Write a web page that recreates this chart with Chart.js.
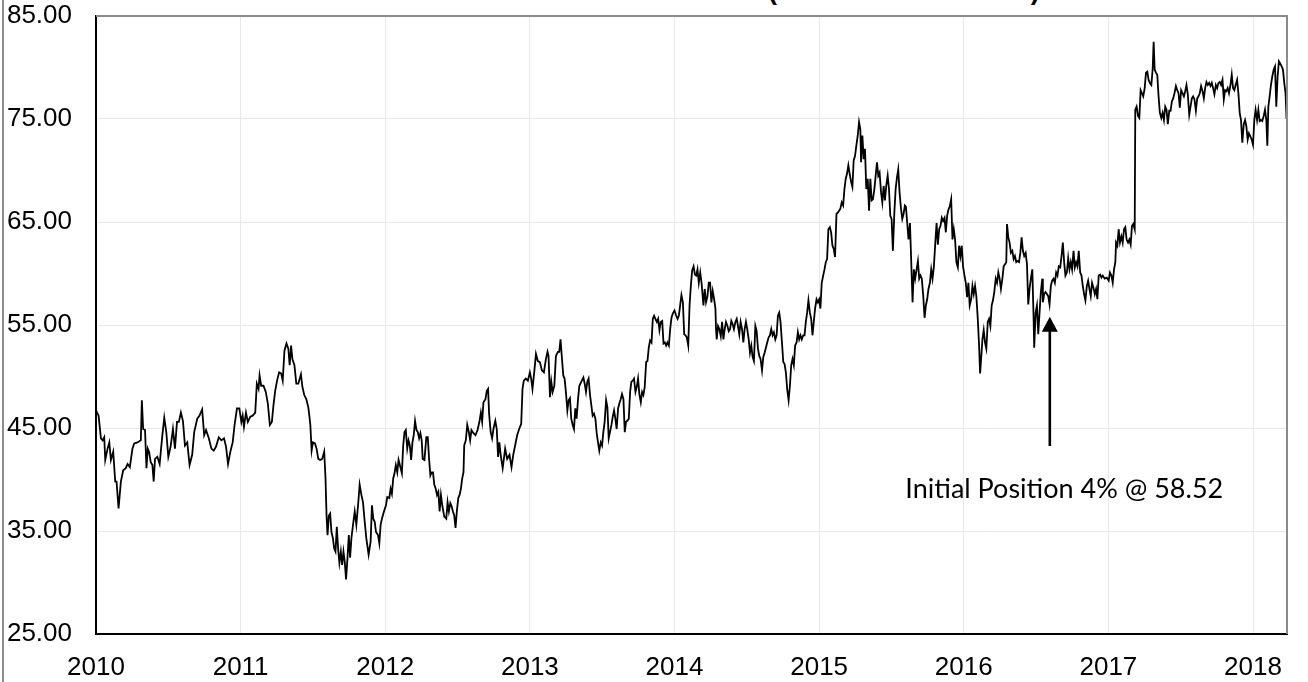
<!DOCTYPE html>
<html>
<head>
<meta charset="utf-8">
<script src="https://cdn.jsdelivr.net/npm/chart.js@4.4.0/dist/chart.umd.min.js"></script>
<style>
  html, body { margin: 0; padding: 0; background: #fff; }
  body { width: 1308px; height: 682px; position: relative; overflow: hidden; }
  canvas { position: absolute; left: 0; top: 0; }
  #frame { position: absolute; left: 2px; top: 0; width: 2px; height: 682px; background: #8c8c8c; }
  #title { position: absolute; left: 612px; top: -23px; font: bold 27px "Liberation Sans", Arial, sans-serif; line-height: 27px; white-space: nowrap; color: #000; }
</style>
</head>
<body>
<div id="title">Share Price (Jan 2010 - Mar 2018)</div>
<canvas id="chart" width="1308" height="682"></canvas>
<div id="frame"></div>
<script>
// weekly-ish closes, date as decimal year
const dates = [
  2010.000, 2010.018, 2010.034, 2010.046, 2010.057, 2010.064, 2010.080, 2010.092, 2010.103, 2010.119,
  2010.133, 2010.142, 2010.156, 2010.172, 2010.188, 2010.206, 2010.218, 2010.234, 2010.252, 2010.264,
  2010.287, 2010.310, 2010.317, 2010.326, 2010.339, 2010.349, 2010.358, 2010.367, 2010.378, 2010.390,
  2010.399, 2010.408, 2010.424, 2010.440, 2010.450, 2010.459, 2010.472, 2010.486, 2010.500, 2010.516,
  2010.532, 2010.546, 2010.560, 2010.573, 2010.587, 2010.601, 2010.615, 2010.631, 2010.647, 2010.665,
  2010.679, 2010.700, 2010.716, 2010.734, 2010.748, 2010.761, 2010.780, 2010.798, 2010.814, 2010.830,
  2010.849, 2010.867, 2010.885, 2010.899, 2010.913, 2010.929, 2010.945, 2010.959, 2010.975, 2010.991,
  2011.005, 2011.014, 2011.023, 2011.037, 2011.050, 2011.067, 2011.083, 2011.101, 2011.112, 2011.124,
  2011.131, 2011.142, 2011.158, 2011.174, 2011.188, 2011.202, 2011.216, 2011.227, 2011.239, 2011.252,
  2011.266, 2011.280, 2011.291, 2011.303, 2011.317, 2011.330, 2011.339, 2011.349, 2011.358, 2011.372,
  2011.385, 2011.399,
  2011.417, 2011.427, 2011.440, 2011.454, 2011.468, 2011.475, 2011.482, 2011.491, 2011.500, 2011.514,
  2011.525, 2011.537, 2011.550, 2011.564, 2011.578, 2011.587, 2011.594, 2011.601, 2011.610, 2011.619,
  2011.628, 2011.638, 2011.647, 2011.656, 2011.665, 2011.674, 2011.683, 2011.693, 2011.702, 2011.711,
  2011.720, 2011.729, 2011.739, 2011.748, 2011.757, 2011.766, 2011.777, 2011.789, 2011.800, 2011.812,
  2011.823, 2011.835, 2011.846, 2011.858, 2011.869, 2011.885, 2011.899, 2011.908, 2011.917, 2011.927,
  2011.936, 2011.950, 2011.959, 2011.968, 2011.977, 2011.991, 2012.005, 2012.014, 2012.028, 2012.037,
  2012.046, 2012.055, 2012.064, 2012.073, 2012.083, 2012.092, 2012.101, 2012.115, 2012.124, 2012.133,
  2012.142, 2012.152, 2012.161, 2012.170, 2012.179, 2012.188, 2012.197, 2012.206, 2012.216, 2012.225,
  2012.234, 2012.243, 2012.252, 2012.259, 2012.271, 2012.284, 2012.294, 2012.303, 2012.312, 2012.321,
  2012.330, 2012.339, 2012.349, 2012.358, 2012.367, 2012.376, 2012.385, 2012.394, 2012.408, 2012.422,
  2012.431, 2012.440, 2012.450, 2012.459, 2012.468, 2012.477, 2012.486, 2012.495, 2012.505, 2012.514,
  2012.523, 2012.532, 2012.541, 2012.546, 2012.557, 2012.567, 2012.578, 2012.587, 2012.596, 2012.610,
  2012.624, 2012.638, 2012.651, 2012.661, 2012.670, 2012.679, 2012.693, 2012.702, 2012.711, 2012.718,
  2012.729, 2012.739, 2012.748, 2012.761, 2012.771, 2012.780, 2012.789, 2012.798, 2012.812,
  2012.829, 2012.843, 2012.859, 2012.873, 2012.885, 2012.898, 2012.912, 2012.926, 2012.940, 2012.949,
  2012.958, 2012.972, 2012.986, 2013.000, 2013.009, 2013.018, 2013.030, 2013.042, 2013.055, 2013.069,
  2013.083, 2013.097, 2013.111, 2013.122, 2013.129, 2013.139, 2013.148, 2013.157, 2013.169, 2013.180,
  2013.194, 2013.203, 2013.212, 2013.222, 2013.231, 2013.240, 2013.249, 2013.259, 2013.268, 2013.277,
  2013.286, 2013.296, 2013.305, 2013.314, 2013.323, 2013.333, 2013.342, 2013.356, 2013.370, 2013.379,
  2013.388, 2013.397, 2013.406, 2013.416, 2013.425, 2013.434, 2013.443, 2013.453, 2013.462, 2013.471,
  2013.480, 2013.490, 2013.499, 2013.508, 2013.517, 2013.527, 2013.536, 2013.545, 2013.554, 2013.564,
  2013.573, 2013.582, 2013.591, 2013.600, 2013.610, 2013.619, 2013.628, 2013.637, 2013.647, 2013.656,
  2013.665, 2013.674, 2013.684, 2013.693, 2013.702, 2013.711, 2013.720, 2013.730, 2013.739, 2013.748,
  2013.757, 2013.767, 2013.776, 2013.785, 2013.794, 2013.804, 2013.813, 2013.822, 2013.831, 2013.841,
  2013.850, 2013.859, 2013.868, 2013.878, 2013.887, 2013.896, 2013.905, 2013.915, 2013.924, 2013.933,
  2013.942, 2013.951, 2013.961, 2013.970, 2013.979, 2013.988, 2014.000, 2014.012, 2014.021, 2014.030,
  2014.039, 2014.048, 2014.058, 2014.067, 2014.076, 2014.085, 2014.095, 2014.104, 2014.113, 2014.122,
  2014.132, 2014.141, 2014.150, 2014.159, 2014.168, 2014.178, 2014.187,
  2014.200, 2014.209, 2014.218, 2014.228, 2014.237, 2014.246, 2014.255, 2014.264, 2014.274, 2014.283,
  2014.287, 2014.292, 2014.301, 2014.310, 2014.320, 2014.329, 2014.338, 2014.347, 2014.356, 2014.366,
  2014.375, 2014.384, 2014.393, 2014.402, 2014.411, 2014.421, 2014.430, 2014.439, 2014.448, 2014.457,
  2014.467, 2014.476, 2014.485, 2014.494, 2014.503, 2014.513, 2014.522, 2014.531, 2014.540, 2014.549,
  2014.559, 2014.568, 2014.577, 2014.586, 2014.595, 2014.605, 2014.614, 2014.623, 2014.632, 2014.641,
  2014.651, 2014.660, 2014.669, 2014.678, 2014.687, 2014.697, 2014.706, 2014.715, 2014.724, 2014.733,
  2014.743, 2014.752, 2014.761, 2014.770, 2014.779, 2014.789, 2014.798, 2014.807, 2014.816, 2014.825,
  2014.834, 2014.844, 2014.853, 2014.862, 2014.871, 2014.880, 2014.890, 2014.899, 2014.908, 2014.917,
  2014.926, 2014.936, 2014.945, 2014.954, 2014.963, 2014.972, 2014.982, 2014.991, 2015.000, 2015.009,
  2015.018, 2015.028, 2015.037, 2015.046, 2015.055, 2015.064, 2015.074, 2015.083, 2015.092, 2015.101,
  2015.110, 2015.120, 2015.129, 2015.138, 2015.147, 2015.156, 2015.166, 2015.175, 2015.184, 2015.193,
  2015.202, 2015.211, 2015.221, 2015.230, 2015.239, 2015.248, 2015.257, 2015.267, 2015.276, 2015.285,
  2015.290, 2015.299, 2015.308, 2015.317, 2015.326, 2015.336, 2015.345, 2015.354, 2015.363, 2015.372,
  2015.382, 2015.391, 2015.400, 2015.409, 2015.418, 2015.428, 2015.437, 2015.446, 2015.455, 2015.464,
  2015.474, 2015.483, 2015.492, 2015.501, 2015.510, 2015.520, 2015.529, 2015.538, 2015.547, 2015.556,
  2015.566, 2015.575, 2015.584, 2015.593,
  2015.600, 2015.609, 2015.618, 2015.628, 2015.637, 2015.646, 2015.655, 2015.664, 2015.674, 2015.683,
  2015.692, 2015.701, 2015.710, 2015.720, 2015.729, 2015.738, 2015.747, 2015.756, 2015.766, 2015.775,
  2015.784, 2015.793, 2015.802, 2015.812, 2015.821, 2015.830, 2015.839, 2015.848, 2015.857, 2015.867,
  2015.876, 2015.885, 2015.894, 2015.903, 2015.913, 2015.922, 2015.931, 2015.940, 2015.949, 2015.959,
  2015.968, 2015.977, 2015.986, 2015.995, 2016.005, 2016.014, 2016.023, 2016.032, 2016.041, 2016.051,
  2016.060, 2016.069, 2016.078, 2016.087, 2016.097, 2016.106, 2016.113, 2016.120, 2016.129, 2016.138,
  2016.147, 2016.156, 2016.166, 2016.175, 2016.184, 2016.193, 2016.202, 2016.211, 2016.221, 2016.230,
  2016.239, 2016.248, 2016.257, 2016.267, 2016.276, 2016.285, 2016.294, 2016.299, 2016.308, 2016.317,
  2016.326, 2016.336, 2016.345, 2016.354, 2016.363, 2016.372, 2016.382, 2016.391, 2016.400, 2016.409,
  2016.418, 2016.428, 2016.437, 2016.446, 2016.455, 2016.464, 2016.474, 2016.483, 2016.487, 2016.497,
  2016.506, 2016.515, 2016.524, 2016.533, 2016.543, 2016.547, 2016.556, 2016.565, 2016.575, 2016.584,
  2016.593, 2016.602, 2016.611, 2016.621, 2016.630, 2016.639, 2016.648, 2016.657, 2016.667, 2016.676,
  2016.685, 2016.694, 2016.703, 2016.713, 2016.722, 2016.731, 2016.740, 2016.749, 2016.759, 2016.768,
  2016.777, 2016.786, 2016.795, 2016.805, 2016.814, 2016.823, 2016.832, 2016.841, 2016.851, 2016.860,
  2016.869, 2016.878, 2016.887, 2016.897, 2016.906, 2016.915, 2016.924, 2016.933, 2016.943, 2016.952,
  2016.961,
  2016.975, 2016.989, 2017.002, 2017.011, 2017.021, 2017.030, 2017.039, 2017.048, 2017.053, 2017.062,
  2017.071, 2017.080, 2017.090, 2017.099, 2017.108, 2017.117, 2017.126, 2017.136, 2017.145, 2017.154,
  2017.163, 2017.172, 2017.182, 2017.186, 2017.195, 2017.205, 2017.214, 2017.223, 2017.232, 2017.241,
  2017.251, 2017.260, 2017.269, 2017.278, 2017.287, 2017.297, 2017.306, 2017.313, 2017.320, 2017.329,
  2017.338, 2017.347, 2017.356, 2017.366, 2017.375, 2017.384, 2017.393, 2017.402, 2017.411, 2017.421,
  2017.430, 2017.439, 2017.448, 2017.457, 2017.467, 2017.476, 2017.485, 2017.494, 2017.503, 2017.513,
  2017.522, 2017.531, 2017.540, 2017.549, 2017.559, 2017.568, 2017.577, 2017.586, 2017.595, 2017.605,
  2017.614, 2017.623, 2017.632, 2017.641, 2017.651, 2017.660, 2017.669, 2017.678, 2017.687, 2017.697,
  2017.706, 2017.715, 2017.724, 2017.733, 2017.743, 2017.752, 2017.761, 2017.770, 2017.779, 2017.789,
  2017.798, 2017.807, 2017.816, 2017.825, 2017.834, 2017.844, 2017.853, 2017.862, 2017.871, 2017.880,
  2017.890, 2017.899, 2017.908, 2017.917, 2017.926, 2017.936, 2017.945, 2017.954, 2017.963, 2017.972,
  2017.982, 2017.991, 2018.000, 2018.009, 2018.018, 2018.028, 2018.037, 2018.046, 2018.055, 2018.064,
  2018.074, 2018.083, 2018.092, 2018.099, 2018.106, 2018.115, 2018.124, 2018.133, 2018.143, 2018.152,
  2018.161, 2018.170, 2018.179, 2018.188, 2018.198, 2018.207, 2018.216, 2018.225, 2018.232
];

const prices = [
  46.7, 46.2, 44.0, 43.8, 44.1, 41.9, 43.0, 43.6, 41.9, 42.7,
  39.8, 39.8, 37.2, 39.8, 40.9, 41.1, 41.5, 41.2, 43.0, 43.5,
  43.6, 43.8, 47.7, 44.9, 44.8, 41.1, 43.0, 42.7, 41.7, 41.4,
  39.8, 42.0, 42.2, 41.5, 43.0, 44.3, 46.0, 44.6, 42.2, 43.2,
  44.9, 43.0, 45.6, 45.6, 46.5, 45.7, 43.3, 43.6, 41.4, 42.4,
  44.6, 45.9, 46.2, 46.8, 44.3, 44.8, 44.0, 43.0, 42.8, 43.2,
  44.1, 43.8, 44.0, 43.2, 41.5, 42.7, 43.6, 45.4, 46.9, 46.9,
  45.6, 46.2, 45.1, 46.5, 45.6, 46.1, 46.2, 46.5, 49.3, 48.8,
  50.1, 49.1, 49.1, 48.5, 47.4, 45.3, 45.6, 47.2, 48.6, 49.6,
  50.4, 50.3, 49.6, 52.5, 53.2, 52.7, 51.1, 53.0, 51.7, 51.1,
  49.3, 49.3,
  50.2, 49.0, 48.2, 47.8, 47.0, 46.2, 45.3, 42.8, 43.6, 43.5,
  43.0, 42.0, 41.9, 42.0, 42.7, 40.1, 36.5, 34.6, 36.5, 36.7,
  34.9, 34.3, 33.3, 33.0, 35.4, 33.3, 31.9, 33.0, 31.7, 33.0,
  32.0, 30.3, 32.4, 34.6, 32.4, 34.3, 35.6, 36.9, 35.6, 37.5,
  39.5, 38.5, 37.8, 35.9, 34.3, 32.7, 34.0, 37.5, 36.2, 35.9,
  34.9, 34.6, 33.8, 35.6, 36.2, 36.9, 37.5, 38.3, 38.2, 39.1,
  38.6, 40.1, 40.6, 41.4, 40.7, 41.9, 41.4, 40.6, 43.3, 44.6,
  44.8, 43.0, 43.8, 43.3, 41.9, 43.6, 44.3, 45.7, 44.8, 44.6,
  44.0, 44.5, 43.8, 42.0, 41.9, 44.1, 44.1, 42.0, 40.4, 40.7,
  40.7, 39.5, 39.1, 38.5, 38.8, 36.9, 38.5, 37.5, 36.4, 36.2,
  37.8, 36.9, 37.7, 37.4, 36.9, 36.5, 35.3, 36.9, 38.2, 38.5,
  39.1, 40.1, 40.7, 43.3, 43.8, 45.3, 44.6, 43.8, 44.8, 44.5,
  44.3, 44.8, 45.6, 46.5, 45.6, 47.5, 47.8, 48.6, 48.8, 46.4,
  44.6, 44.0, 44.9, 45.7, 44.9, 42.2, 43.6, 42.4, 41.1,
  43.0, 42.0, 42.4, 41.2, 42.4, 43.3, 44.3, 44.9, 45.4, 48.8,
  49.6, 49.8, 49.6, 50.4, 49.8, 48.8, 50.4, 52.2, 51.5, 51.4,
  50.6, 50.4, 51.7, 52.4, 52.0, 48.0, 49.5, 48.5, 49.1, 52.0,
  52.4, 52.4, 53.6, 51.7, 50.1, 49.8, 48.5, 46.7, 47.7, 47.9,
  45.9, 45.3, 44.9, 46.9, 45.9, 47.8, 49.1, 49.5, 49.9, 49.3,
  48.5, 49.5, 49.8, 48.2, 47.2, 46.2, 46.4, 45.9, 44.5, 43.6,
  42.8, 43.6, 43.3, 44.6, 45.6, 47.7, 47.0, 44.0, 44.6, 45.3,
  46.1, 46.7, 45.9, 44.9, 46.9, 47.4, 47.8, 48.3, 47.8, 44.6,
  45.6, 45.7, 45.9, 48.5, 49.5, 49.6, 49.8, 48.5, 49.0, 49.8,
  48.3, 47.5, 48.5, 48.2, 49.0, 51.4, 51.5, 52.8, 53.5, 53.3,
  55.6, 55.9, 55.6, 55.3, 55.6, 54.5, 55.3, 55.4, 53.2, 53.3,
  53.0, 53.3, 53.0, 54.6, 55.7, 56.1, 56.4, 55.9, 55.6, 55.9,
  56.9, 57.9, 57.2, 54.1, 54.0, 53.8, 53.0, 56.9, 58.8, 60.3,
  60.7, 59.9, 59.8, 60.4, 59.1, 60.1, 59.1,
  56.9, 58.5, 57.2, 57.8, 59.1, 59.1, 57.2, 58.3, 57.5, 56.6,
  54.6, 53.6, 54.9, 54.6, 53.9, 55.3, 53.6, 54.6, 55.3, 54.9,
  54.4, 54.6, 55.4, 55.1, 54.6, 55.3, 55.6, 54.9, 54.1, 55.3,
  54.6, 53.3, 54.6, 55.3, 54.6, 53.6, 52.3, 53.0, 51.9, 51.5,
  54.9, 54.4, 52.7, 52.0, 51.7, 50.6, 51.9, 52.3, 52.8, 53.3,
  53.8, 54.0, 54.6, 54.0, 54.3, 53.6, 54.0, 55.9, 56.2, 55.3,
  53.3, 51.4, 51.2, 50.4, 48.8, 47.7, 49.1, 51.1, 51.7, 51.1,
  53.0, 53.3, 54.3, 53.6, 54.0, 53.6, 54.0, 54.0, 55.3, 56.2,
  57.4, 56.2, 55.6, 54.0, 55.3, 56.6, 57.5, 57.2, 57.5, 56.6,
  59.1, 59.8, 60.4, 61.1, 61.4, 64.3, 64.5, 64.0, 62.7, 62.4,
  61.6, 65.8, 65.9, 66.1, 66.3, 66.9, 66.6, 68.2, 69.2, 69.7,
  70.5, 69.7, 68.9, 68.4, 71.0, 71.4, 72.4, 73.4, 74.7, 74.0,
  70.8, 73.4, 71.1, 72.1, 68.2, 69.2, 66.1, 69.2, 67.1, 67.2,
  68.2, 69.5, 70.8, 69.5, 69.8, 67.9, 66.9, 68.5, 67.1, 68.5,
  69.5, 68.2, 65.6, 65.3, 62.2, 65.9, 68.2, 69.3, 70.1, 67.9,
  66.3, 65.3, 65.8, 66.6,
  66.5, 64.9, 63.3, 64.9, 61.1, 57.2, 60.4, 59.5, 60.4, 61.2,
  59.5, 59.8, 59.5, 57.8, 55.7, 56.9, 57.5, 58.5, 59.1, 60.4,
  59.5, 60.6, 62.7, 64.9, 62.8, 64.3, 64.6, 65.4, 65.1, 65.4,
  64.0, 65.6, 66.2, 66.5, 67.2, 63.3, 64.3, 63.3, 61.1, 60.6,
  62.7, 61.7, 62.7, 60.7, 59.8, 59.1, 57.7, 59.1, 56.9, 57.5,
  58.8, 58.0, 58.8, 57.8, 55.6, 53.0, 50.3, 51.7, 53.6, 54.5,
  53.3, 52.7, 55.3, 55.6, 54.9, 56.9, 57.4, 58.2, 59.5, 59.1,
  60.1, 59.5, 58.5, 59.5, 60.7, 60.9, 61.1, 64.8, 63.5, 63.0,
  62.0, 62.2, 61.4, 61.7, 61.1, 61.2, 61.1, 62.0, 63.5, 62.2,
  61.7, 62.0, 60.9, 57.0, 58.5, 59.5, 60.4, 55.6, 52.8, 56.2,
  56.9, 54.1, 56.2, 58.2, 59.5, 57.2, 58.0, 58.2, 58.0, 57.8,
  57.0, 58.8, 59.3, 59.5, 59.1, 60.1, 59.8, 60.7, 60.6, 61.7,
  63.0, 61.1, 59.8, 60.1, 61.5, 60.4, 61.1, 60.4, 62.2, 60.6,
  61.1, 60.7, 62.2, 60.1, 59.8, 58.8, 58.0, 57.4, 58.8, 59.3,
  58.5, 57.8, 59.1, 58.6, 58.0, 58.5, 57.5, 59.8, 59.9, 59.6,
  59.8,
  59.5, 59.6, 59.3, 60.1, 59.8, 59.1, 60.4, 61.1, 63.0, 62.7,
  64.3, 63.0, 63.6, 63.0, 64.3, 64.5, 63.3, 63.0, 63.3, 62.8,
  64.6, 64.8, 64.3, 75.9, 76.2, 75.3, 75.1, 77.8, 77.5, 77.2,
  78.0, 79.5, 79.6, 78.8, 78.5, 78.3, 79.8, 82.5, 79.8, 79.5,
  79.3, 77.2, 75.6, 75.1, 75.6, 74.9, 76.2, 75.9, 74.5, 75.8,
  75.8, 76.7, 77.0, 77.5, 78.2, 77.8, 77.5, 76.1, 77.8, 77.5,
  77.2, 77.7, 78.3, 77.4, 75.4, 76.2, 77.0, 77.2, 76.9, 75.8,
  77.0, 77.2, 77.5, 78.2, 77.7, 77.0, 78.0, 78.6, 78.3, 78.5,
  78.2, 78.5, 78.0, 77.4, 78.3, 78.0, 78.5, 78.6, 78.3, 78.8,
  76.9, 77.8, 77.7, 78.0, 77.5, 78.3, 79.3, 78.0, 77.8, 78.3,
  78.8, 77.5, 75.6, 74.9, 72.7, 74.5, 74.9, 74.3, 73.0, 73.6,
  73.3, 73.0, 72.5, 74.9, 75.9, 74.9, 75.9, 74.8, 74.9, 74.8,
  75.3, 75.9, 74.9, 72.4, 76.2, 77.2, 78.3, 79.1, 79.8, 80.1,
  76.2, 79.1, 80.6, 80.4, 80.1, 79.8, 78.5, 77.5, 75.0
];

const yearTicks = [2010, 2011, 2012, 2013, 2014, 2015, 2016, 2017, 2018];
const priceTicks = [25, 35, 45, 55, 65, 75, 85];

// annotation: arrow at entry date, from label up to the line
const noteText = 'Initial Position 4% @ 58.52';
const noteAt = [2016.695, 38.2];
const arrowDate = 2016.595;
const arrowSpan = [43.25, 55.8];

if (dates.length !== prices.length) console.warn('dates/prices length mismatch', dates.length, prices.length);

const axisFont = { family: '"Liberation Sans", Arial, sans-serif', size: 26 };

const framePlugin = {
    id: 'frame',
    afterDraw(chart) {
        const { ctx, chartArea: a } = chart;
        ctx.save();
        ctx.strokeStyle = '#8a8a8a';
        ctx.lineWidth = 2;
        ctx.beginPath();
        ctx.moveTo(a.left, a.top);
        ctx.lineTo(a.right, a.top);
        ctx.lineTo(a.right, a.bottom);
        ctx.stroke();
        ctx.restore();
    }
};

const arrowPlugin = {
    id: 'entryArrow',
    afterDatasetsDraw(chart) {
        const { ctx, scales } = chart;
        const x = scales.x.getPixelForValue(arrowDate);
        const yBase = scales.y.getPixelForValue(arrowSpan[0]);
        const yTip = scales.y.getPixelForValue(arrowSpan[1]);
        ctx.save();
        ctx.strokeStyle = '#000';
        ctx.fillStyle = '#000';
        ctx.lineWidth = 2.6;
        ctx.beginPath();
        ctx.moveTo(x, yBase);
        ctx.lineTo(x, yTip + 12);
        ctx.stroke();
        ctx.beginPath();
        ctx.moveTo(x, yTip);
        ctx.lineTo(x - 8, yTip + 15);
        ctx.lineTo(x + 8, yTip + 15);
        ctx.closePath();
        ctx.fill();

        ctx.font = '27px Lato, "Open Sans", sans-serif';
        ctx.textAlign = 'center';
        ctx.textBaseline = 'alphabetic';
        ctx.fillText(noteText, scales.x.getPixelForValue(noteAt[0]), scales.y.getPixelForValue(noteAt[1]));
        ctx.restore();
    }
};

new Chart(document.getElementById('chart'), {
    type: 'line',
    data: {
        datasets: [{
            data: dates.map((d, i) => ({ x: d, y: prices[i] })),
            borderColor: '#000',
            borderWidth: 1.8,
            pointRadius: 0,
            tension: 0,
            fill: false
        }]
    },
    options: {
        responsive: false,
        animation: false,
        layout: { autoPadding: false, padding: { top: 16, right: 21, left: 0, bottom: 0 } },
        plugins: { legend: { display: false }, tooltip: { enabled: false } },
        scales: {
            x: {
                type: 'linear',
                min: 2010,
                max: 2018.235,
                afterBuildTicks: s => { s.ticks = yearTicks.map(v => ({ value: v })); },
                afterFit: s => { s.height = 48; s.paddingLeft = 0; s.paddingRight = 0; },
                ticks: { callback: v => String(v), font: axisFont, color: '#000', padding: 18, maxRotation: 0, autoSkip: false },
                grid: { color: '#e8e8e8', drawTicks: false },
                border: { color: '#000', width: 2 }
            },
            y: {
                min: 25,
                max: 85,
                afterBuildTicks: s => { s.ticks = priceTicks.map(v => ({ value: v })); },
                // fixed gutter; drop the label overhang Chart.js adds above/below
                afterFit: s => { s.width = 96; s.paddingTop = 0; s.paddingBottom = 0; },
                ticks: { callback: v => Number(v).toFixed(2), font: axisFont, color: '#000', padding: 24 },
                grid: { color: '#e8e8e8', drawTicks: false },
                border: { color: '#000', width: 2 }
            }
        }
    },
    plugins: [framePlugin, arrowPlugin]
});
</script>
</body>
</html>
